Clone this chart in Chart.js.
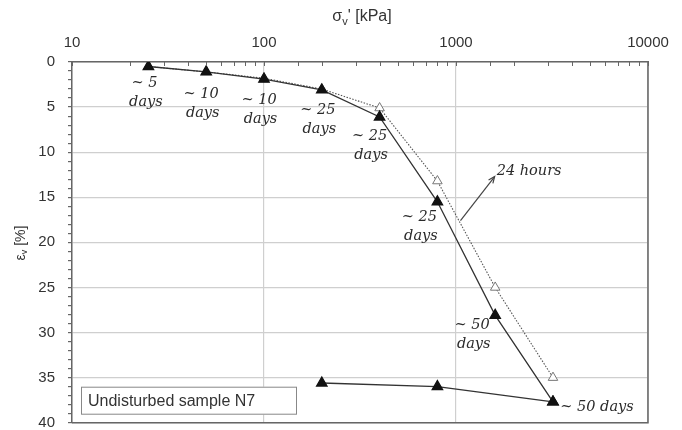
<!DOCTYPE html>
<html>
<head>
<meta charset="utf-8">
<script src="https://cdn.jsdelivr.net/npm/chart.js@4.4.1/dist/chart.umd.min.js"></script>
<style>
  body { margin: 0; background: #fff; }
  .wrap { width: 682px; height: 430px; position: relative; }
</style>
</head>
<body>
<div class="wrap"><canvas id="myChart"></canvas></div>
<script>
// loading steps (kPa) and vertical strain (%)
const stress = [25, 50, 100, 200, 400, 800, 1600, 3200];
const strainLongTerm = [0.5, 1.1, 1.9, 3.1, 6.1, 15.5, 28.1, 37.7];
const strain24h = [0.5, 1.1, 1.8, 3.0, 5.1, 13.2, 25.0, 35.0];
// unloading
const unloadStress = [3200, 800, 200];
const unloadStrain = [37.7, 36.0, 35.6];
const durations = ['~ 5', '~ 10', '~ 10', '~ 25', '~ 25', '~ 25', '~ 50', '~ 50 days'];
const xTicks = [10, 100, 1000, 10000];
const yTicks = [0, 5, 10, 15, 20, 25, 30, 35, 40];

const toXY = (xs, ys) => xs.map((x, i) => ({ x: x, y: ys[i] }));
const isMajorX = v => xTicks.includes(v);
const labelFont = '15px "Liberation Sans", Arial, sans-serif';
const noteFont = 'italic 14.5px "DejaVu Serif", serif';

// text positions next to the points (pixel offsets)
const noteOffsets = [[-4, 17], [-5, 22], [-5, 21], [-4, 20], [-10, 19], [-18, 15], [-23, 10], [44, 5]];

const extras = {
  id: 'extras',
  afterDatasetsDraw(chart) {
    const c = chart.ctx, a = chart.chartArea;
    const xs = chart.scales.x, ys = chart.scales.y;
    c.save();
    // right + bottom frame
    c.strokeStyle = '#666';
    c.lineWidth = 1.5;
    c.beginPath();
    c.moveTo(a.right, a.top);
    c.lineTo(a.right, a.bottom);
    c.lineTo(a.left, a.bottom);
    c.stroke();

    // log ticks on top axis, pointing down into the plot
    c.lineWidth = 1;
    c.beginPath();
    xs.ticks.forEach(t => {
      let px = Math.round(xs.getPixelForValue(t.value)) + 0.5;
      c.moveTo(px, a.top - 1);
      c.lineTo(px, a.top + 4);
    });
    c.stroke();

    // durations
    c.fillStyle = '#2a2a2a';
    c.font = noteFont;
    c.textAlign = 'center';
    c.textBaseline = 'middle';
    durations.forEach((t, i) => {
      let px = xs.getPixelForValue(stress[i]);
      let py = ys.getPixelForValue(strainLongTerm[i]);
      let o = noteOffsets[i];
      c.fillText(t, px + o[0], py + o[1]);
      if (i < durations.length - 1) c.fillText('days', px + o[0] + 1.5, py + o[1] + 19);
    });

    // 24 hours arrow
    let x1 = xs.getPixelForValue(1055), y1 = ys.getPixelForValue(17.6);
    let x2 = xs.getPixelForValue(1590), y2 = ys.getPixelForValue(12.7);
    c.strokeStyle = '#444';
    c.lineWidth = 1.2;
    c.beginPath();
    c.moveTo(x1, y1);
    c.lineTo(x2, y2);
    c.stroke();
    let ang = Math.atan2(y2 - y1, x2 - x1);
    c.beginPath();
    c.moveTo(x2 - 7 * Math.cos(ang - 0.4), y2 - 7 * Math.sin(ang - 0.4));
    c.lineTo(x2, y2);
    c.lineTo(x2 - 7 * Math.cos(ang + 0.4), y2 - 7 * Math.sin(ang + 0.4));
    c.stroke();
    c.textAlign = 'left';
    c.fillText('24 hours', x2 + 2, y2 - 5);

    // sample box
    c.fillStyle = '#fff';
    c.fillRect(a.left + 9, a.bottom - 36, 216, 28);
    c.strokeStyle = '#888';
    c.lineWidth = 1;
    c.strokeRect(a.left + 9.5, a.bottom - 35.5, 215, 27);
    c.fillStyle = '#333';
    c.font = '16px "Liberation Sans", Arial, sans-serif';
    c.fillText('Undisturbed sample N7', a.left + 16, a.bottom - 21.5);

    // x title: σv' [kPa]
    const big = '16px "Liberation Sans", Arial, sans-serif';
    const sub = '11px "Liberation Sans", Arial, sans-serif';
    c.font = big;
    c.textAlign = 'left';
    let w1 = c.measureText('σ').width;
    c.font = sub;
    let w2 = c.measureText('v').width;
    c.font = big;
    let w3 = c.measureText('\' [kPa]').width;
    let tx = (a.left + a.right) / 2 - (w1 + w2 + w3) / 2 + 2, ty = 17;
    c.fillText('σ', tx, ty);
    c.font = sub;
    c.fillText('v', tx + w1, ty + 5);
    c.font = big;
    c.fillText('\' [kPa]', tx + w1 + w2, ty);

    // y title: εv [%]
    c.translate(21, 243);
    c.rotate(-Math.PI / 2);
    c.font = '14px "Liberation Sans", Arial, sans-serif';
    let e1 = c.measureText('ε').width;
    c.font = '9px "Liberation Sans", Arial, sans-serif';
    let e2 = c.measureText('v').width;
    c.font = '14px "Liberation Sans", Arial, sans-serif';
    let e3 = c.measureText(' [%]').width;
    let sx = -(e1 + e2 + e3) / 2;
    c.fillText('ε', sx, 0);
    c.font = '9px "Liberation Sans", Arial, sans-serif';
    c.fillText('v', sx + e1, 4);
    c.font = '14px "Liberation Sans", Arial, sans-serif';
    c.fillText(' [%]', sx + e1 + e2, 0);
    c.restore();
  }
};

const ctx = document.getElementById('myChart');
new Chart(ctx, {
  type: 'line',
  data: {
    datasets: [
      {
        label: 'end of step',
        order: 1,
        data: toXY(stress, strainLongTerm),
        borderColor: '#333',
        borderWidth: 1.3,
        pointStyle: 'triangle',
        pointRadius: 6,
        pointBackgroundColor: '#111',
        pointBorderColor: '#111'
      },
      {
        label: 'unloading',
        order: 1,
        data: toXY(unloadStress, unloadStrain),
        borderColor: '#333',
        borderWidth: 1.3,
        pointStyle: 'triangle',
        pointRadius: 6,
        pointBackgroundColor: '#111',
        pointBorderColor: '#111'
      },
      {
        label: '24 hours',
        order: 2,
        data: toXY(stress, strain24h),
        borderColor: '#555',
        borderWidth: 1.1,
        borderDash: [1.5, 1.5],
        pointStyle: 'triangle',
        pointRadius: 5.5,
        pointBackgroundColor: '#fff',
        pointBorderColor: '#777',
        pointBorderWidth: 1
      }
    ]
  },
  options: {
    responsive: true,
    maintainAspectRatio: false,
    animation: false,
    layout: { padding: { left: 0, right: 34, top: 0, bottom: 7 } },
    plugins: { legend: { display: false }, tooltip: { enabled: false } },
    elements: { line: { tension: 0 } },
    scales: {
      x: {
        type: 'logarithmic',
        position: 'top',
        min: 10,
        max: 10000,
        afterFit: s => { s.height = 62; s.paddingLeft = 0; s.paddingRight = 0; },
        border: { color: '#666', width: 1.5 },
        grid: {
          color: g => isMajorX(g.tick.value) ? '#cfcfcf' : 'rgba(0,0,0,0)',
          lineWidth: 1.2,
          drawTicks: false
        },
        ticks: {
          autoSkip: false,
          maxRotation: 0,
          padding: 10,
          color: '#333',
          font: { family: '"Liberation Sans", Arial, sans-serif', size: 15 },
          callback: v => isMajorX(v) ? String(v) : ''
        }
      },
      y: {
        reverse: true,
        min: 0,
        max: 40,
        afterFit: s => { s.width = 72; s.paddingTop = 0; s.paddingBottom = 0; },
        border: { color: '#666', width: 1.5 },
        grid: {
          color: g => yTicks.includes(g.tick.value) ? '#cfcfcf' : 'rgba(0,0,0,0)',
          lineWidth: 1.2,
          tickColor: '#666',
          tickLength: 4
        },
        ticks: {
          stepSize: 1,
          autoSkip: false,
          padding: 13,
          color: '#333',
          font: { family: '"Liberation Sans", Arial, sans-serif', size: 15 },
          callback: v => yTicks.includes(v) ? String(v) : ''
        }
      }
    }
  },
  plugins: [extras]
});
</script>
</body>
</html>
